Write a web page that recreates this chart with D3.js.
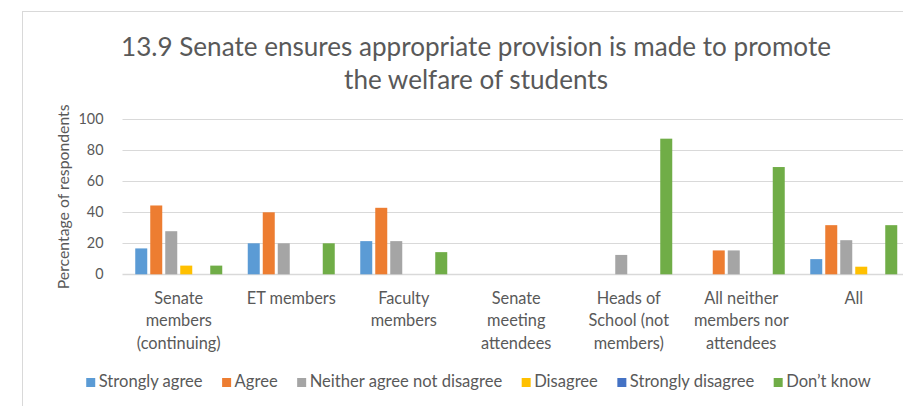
<!DOCTYPE html>
<html>
<head>
<meta charset="utf-8">
<script src="https://cdn.jsdelivr.net/npm/d3@7"></script>
<style>
  html, body { margin: 0; padding: 0; background: #fff; overflow: hidden; }
  svg { display: block; }
  text { font-family: Lato, "Open Sans", sans-serif; fill: #595959; }
</style>
</head>
<body>
<svg id="chart" width="903" height="406"></svg>
<script>
// Respondent groups (x categories), each label split into display lines
const categories = [
  "Senate members (continuing)",
  "ET members",
  "Faculty members",
  "Senate meeting attendees",
  "Heads of School (not members)",
  "All neither members nor attendees",
  "All"
];
const categoryLines = [
  ["Senate", "members", "(continuing)"],
  ["ET members"],
  ["Faculty", "members"],
  ["Senate", "meeting", "attendees"],
  ["Heads of", "School (not", "members)"],
  ["All neither", "members nor", "attendees"],
  ["All"]
];

// Response options (series) and their colours
const seriesNames = ["Strongly agree", "Agree", "Neither agree not disagree", "Disagree", "Strongly disagree", "Don\u2019t know"];
const seriesColors = ["#5B9BD5", "#ED7D31", "#A5A5A5", "#FFC000", "#4472C4", "#70AD47"];

// Percentage of respondents per series, one value per category
const stronglyAgree    = [16.7, 20, 21.4, 0, 0,    0,    9.8];
const agree            = [44.4, 40, 42.9, 0, 0,    15.4, 31.7];
const neither          = [27.8, 20, 21.4, 0, 12.5, 15.4, 22.0];
const disagree         = [5.6,  0,  0,    0, 0,    0,    4.9];
const stronglyDisagree = [0,    0,  0,    0, 0,    0,    0];
const dontKnow         = [5.6,  20, 14.3, 0, 87.5, 69.2, 31.7];

const yTicks = [0, 20, 40, 60, 80, 100];
const titleLines = ["13.9 Senate ensures appropriate provision is made to promote", "the welfare of students"];
const yAxisTitle = "Percentage of respondents";

const seriesValues = [stronglyAgree, agree, neither, disagree, stronglyDisagree, dontKnow];

const svg = d3.select("#chart");
const plot = { left: 122.5, right: 910, top: 119.3, bottom: 274.3 };
const centerX = 476;

// Font size at which a sample string spans the given width
function sizeFor(sample, width) {
  const t = svg.append("text").style("font-size", "100px").text(sample);
  const w = t.node().getComputedTextLength();
  t.remove();
  return 100 * width / w;
}
const titleSize = sizeFor(titleLines[0], 710);
const labelSize = sizeFor("ET members", 89);
const legendSize = sizeFor("Strongly agree", 104);
const tickSize = sizeFor("100", 25);
const yTitleSize = sizeFor(yAxisTitle, 185);

// Chart frame
svg.append("rect")
  .attr("x", 22.5).attr("y", 11.5)
  .attr("width", 908).attr("height", 430)
  .attr("fill", "#fff").attr("stroke", "#D9D9D9").attr("stroke-width", 1);

// Title
svg.append("g").selectAll("text")
  .data(titleLines).join("text")
  .attr("x", centerX)
  .attr("y", (d, i) => 55.5 + i * 33)
  .attr("text-anchor", "middle")
  .style("font-size", titleSize + "px")
  .text(d => d);

const x = d3.scaleBand().domain(categories).range([plot.left, plot.right]).paddingInner(0).paddingOuter(0);
const xInner = d3.scaleBand().domain(seriesNames).range([0, x.bandwidth()]).paddingInner(0.2).paddingOuter(0.85);
const y = d3.scaleLinear().domain([0, 100]).range([plot.bottom, plot.top]);

// Gridlines
svg.append("g").selectAll("line")
  .data(yTicks).join("line")
  .attr("x1", plot.left).attr("x2", plot.right)
  .attr("y1", d => Math.round(y(d)) + 0.5).attr("y2", d => Math.round(y(d)) + 0.5)
  .attr("stroke", "#D9D9D9")
  .attr("stroke-width", d => d === 0 ? 1.5 : 1);

// Y axis labels
const yAxis = d3.axisLeft(y).tickValues(yTicks).tickSize(0).tickPadding(0);
const yg = svg.append("g").attr("transform", "translate(103.5,0)").call(yAxis);
yg.select(".domain").remove();
yg.selectAll("text")
  .style("font-size", tickSize + "px")
  .style("font-family", "Lato, sans-serif")
  .attr("fill", "#595959");

// Y axis title
svg.append("text")
  .attr("transform", `translate(69,${(plot.top + plot.bottom) / 2}) rotate(-90)`)
  .attr("text-anchor", "middle")
  .style("font-size", yTitleSize + "px")
  .text(yAxisTitle);

// Bars
const groups = svg.append("g").selectAll("g")
  .data(categories).join("g")
  .attr("transform", d => `translate(${x(d)},0)`);

groups.selectAll("rect")
  .data((c, ci) => seriesNames.map((s, si) => ({ s, si, v: seriesValues[si][ci] })))
  .join("rect")
  .attr("x", d => xInner(d.s))
  .attr("width", xInner.bandwidth())
  .attr("y", d => y(d.v))
  .attr("height", d => y(0) - y(d.v))
  .attr("fill", d => seriesColors[d.si]);

// Category labels
const labels = svg.append("g").selectAll("text")
  .data(categories).join("text")
  .attr("text-anchor", "middle")
  .style("font-size", labelSize + "px");
labels.selectAll("tspan")
  .data((d, i) => categoryLines[i].map(t => ({ t, c: d })))
  .join("tspan")
  .attr("x", d => x(d.c) + x.bandwidth() / 2)
  .attr("y", (d, i) => 303.5 + i * 22.5)
  .text(d => d.t);

// Legend
const legend = svg.append("g");
const items = legend.selectAll("g").data(seriesNames).join("g");
items.append("rect")
  .attr("y", 1)
  .attr("width", 9).attr("height", 9)
  .attr("fill", (d, i) => seriesColors[i]);
items.append("text")
  .attr("x", 12.5).attr("y", 10)
  .style("font-size", legendSize + "px")
  .text(d => d);
const widths = [];
items.each(function () {
  widths.push(12.5 + this.querySelector("text").getComputedTextLength());
});
const gap = 19.5;
const total = d3.sum(widths) + gap * (widths.length - 1);
let cx = 478.5 - total / 2;
items.attr("transform", (d, i) => {
  const t = `translate(${cx},377)`;
  cx += widths[i] + gap;
  return t;
});
</script>
</body>
</html>
